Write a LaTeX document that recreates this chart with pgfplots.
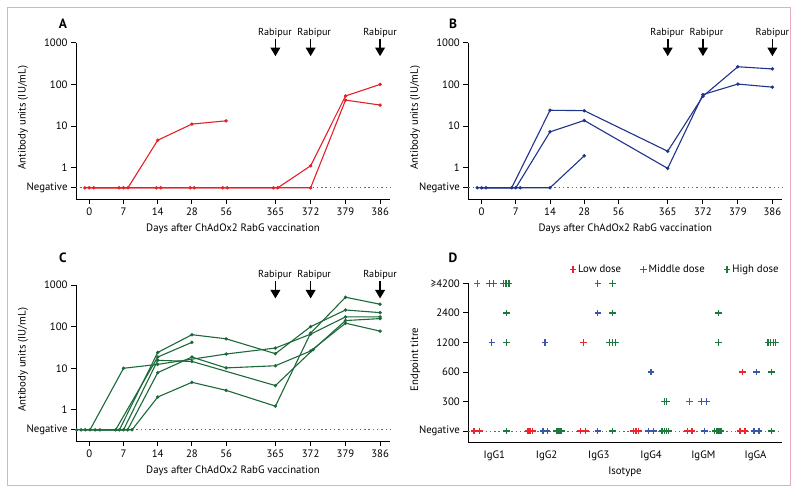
\documentclass[border=0pt]{standalone}
\usepackage{pgfplots}
\pgfplotsset{compat=1.18}
\usepackage{fontspec}
\setmainfont{PT Sans}
\usetikzlibrary{arrows.meta}
\definecolor{cred}{RGB}{228,32,40}
\definecolor{cblue}{RGB}{32,52,140}
\definecolor{cgreen}{RGB}{28,106,58}
\definecolor{dred}{RGB}{238,36,44}
\definecolor{dblue}{RGB}{58,86,168}
\definecolor{dgreen}{RGB}{30,120,62}
\definecolor{negc}{RGB}{95,108,122}
\definecolor{pinkb}{RGB}{232,170,190}
\newcommand{\rab}[2]{%
  \draw[line width=1.7bp, -{Triangle[width=9.5bp,length=8.5bp]}] ([yshift=4bp]axis cs:#1,1000) -- ([yshift=-13.5bp]axis cs:#1,1000);
  \node[anchor=center, font=\fontsize{10.2}{12}\selectfont] at ([yshift=10bp, xshift=#2]axis cs:#1,1000) {Rabipur};
}
\newcommand{\rabs}{\rab{5.44}{-0.5bp}\rab{6.47}{3.5bp}\rab{8.5}{0bp}}
\begin{document}
\begin{tikzpicture}
\useasboundingbox (0bp,0bp) rectangle (800bp,494bp);
\fill[white] (0bp,0bp) rectangle (800bp,494bp);
\draw[pinkb, line width=1.2bp] (7.5bp,8.5bp) rectangle (790.5bp,486.5bp);
% ---------- A ----------
\begin{axis}[
    y coord trafo/.code={\pgfmathparse{log10(#1)}},
    y coord inv trafo/.code={\pgfmathparse{10^(#1)}},
    ymin=0.1786, ymax=1000,
    scale only axis, width=314bp, height=156.3bp,
    at={(76bp,295bp)}, anchor=south west,
    font=\fontsize{10.8}{13}\selectfont,
    axis x line*=bottom, axis y line*=left,
    axis line style={line width=0.9bp},
    tick align=outside, major tick length=5bp,
    tick style={black, line width=0.9bp},
    xmin=-0.389, xmax=8.79,
    xtick={0,1,2,3,4,5.44,6.47,7.49,8.5},
    xticklabels={0,7,14,28,56,365,372,379,386},
    ytick={0.333,1,10,100,1000},
    yticklabels={Negative,1,10,100,1000},
    minor tick num=0,
    xlabel={Days after ChAdOx2 RabG vaccination},
    ylabel={Antibody units (IU/mL)},
    xlabel style={at={(axis description cs:0.5,0)}, anchor=center, yshift=-29.7bp},
    ylabel style={at={(axis description cs:0,0.52)}, anchor=center, yshift=53bp},
    clip=false]
\addplot[negc, line width=0.9bp, dash pattern=on 1.4bp off 2.9bp] coordinates {(-0.389,0.333) (8.79,0.333)};
\addplot[cred, line width=1.1bp, mark=*, mark size=1.1bp, mark options={fill=cred}] coordinates {(0.13,0.333) (1.13,0.333) (2,4.6) (3,11.2) (4,13.4)};
\addplot[cred, line width=1.1bp, mark=*, mark size=1.1bp, mark options={fill=cred}] coordinates {(0,0.333) (1,0.333) (2.09,0.333) (3.07,0.333) (4.03,0.333) (5.51,0.333) (6.47,1.12) (7.49,53) (8.5,100)};
\addplot[cred, line width=1.1bp, mark=*, mark size=1.1bp, mark options={fill=cred}] coordinates {(-0.13,0.333) (0.87,0.333) (1.96,0.333) (2.95,0.333) (3.9,0.333) (5.38,0.333) (6.47,0.333) (7.49,42) (8.5,32)};
\rabs
\end{axis}
\node[font=\fontsize{13.5}{15}\selectfont\bfseries] at (63bp,470bp) {A};
% ---------- B ----------
\begin{axis}[
    y coord trafo/.code={\pgfmathparse{log10(#1)}},
    y coord inv trafo/.code={\pgfmathparse{10^(#1)}},
    ymin=0.1786, ymax=1000,
    scale only axis, width=314bp, height=156.3bp,
    at={(468.3bp,295bp)}, anchor=south west,
    font=\fontsize{10.8}{13}\selectfont,
    axis x line*=bottom, axis y line*=left,
    axis line style={line width=0.9bp},
    tick align=outside, major tick length=5bp,
    tick style={black, line width=0.9bp},
    xmin=-0.389, xmax=8.79,
    xtick={0,1,2,3,4,5.44,6.47,7.49,8.5},
    xticklabels={0,7,14,28,56,365,372,379,386},
    ytick={0.333,1,10,100,1000},
    yticklabels={Negative,1,10,100,1000},
    minor tick num=0,
    xlabel={Days after ChAdOx2 RabG vaccination},
    ylabel={Antibody units (IU/mL)},
    xlabel style={at={(axis description cs:0.5,0)}, anchor=center, yshift=-29.7bp},
    ylabel style={at={(axis description cs:0,0.52)}, anchor=center, yshift=53bp},
    clip=false]
\addplot[negc, line width=0.9bp, dash pattern=on 1.4bp off 2.9bp] coordinates {(-0.389,0.333) (8.79,0.333)};
\addplot[cblue, line width=1.1bp, mark=*, mark size=1.1bp, mark options={fill=cblue}] coordinates {(-0.13,0.333) (0.88,0.333) (2,24) (3,23.5) (5.44,2.5) (6.47,52) (7.49,265) (8.5,235)};
\addplot[cblue, line width=1.1bp, mark=*, mark size=1.1bp, mark options={fill=cblue}] coordinates {(0,0.333) (1,0.333) (2,7.3) (3,13.7) (5.44,0.97) (6.47,57) (7.49,102) (8.5,86)};
\addplot[cblue, line width=1.1bp, mark=*, mark size=1.1bp, mark options={fill=cblue}] coordinates {(0.13,0.333) (1.13,0.333) (2,0.333) (3,1.94)};
\rabs
\end{axis}
\node[font=\fontsize{13.5}{15}\selectfont\bfseries] at (453bp,470bp) {B};
% ---------- C ----------
\begin{axis}[
    y coord trafo/.code={\pgfmathparse{log10(#1)}},
    y coord inv trafo/.code={\pgfmathparse{10^(#1)}},
    ymin=0.1786, ymax=1000,
    scale only axis, width=314bp, height=156bp,
    at={(76bp,53bp)}, anchor=south west,
    font=\fontsize{10.8}{13}\selectfont,
    axis x line*=bottom, axis y line*=left,
    axis line style={line width=0.9bp},
    tick align=outside, major tick length=5bp,
    tick style={black, line width=0.9bp},
    xmin=-0.389, xmax=8.79,
    xtick={0,1,2,3,4,5.44,6.47,7.49,8.5},
    xticklabels={0,7,14,28,56,365,372,379,386},
    ytick={0.333,1,10,100,1000},
    yticklabels={Negative,1,10,100,1000},
    minor tick num=0,
    xlabel={Days after ChAdOx2 RabG vaccination},
    ylabel={Antibody units (IU/mL)},
    xlabel style={at={(axis description cs:0.5,0)}, anchor=center, yshift=-29.7bp},
    ylabel style={at={(axis description cs:0,0.52)}, anchor=center, yshift=53bp},
    clip=false]
\addplot[negc, line width=0.9bp, dash pattern=on 1.4bp off 2.9bp] coordinates {(-0.389,0.333) (8.79,0.333)};
\addplot[cgreen, line width=1.1bp, mark=*, mark size=1.1bp, mark options={fill=cgreen}] coordinates {(-0.37,0.333) (0.77,0.333) (2,18.6) (3,42)};
\addplot[cgreen, line width=1.1bp, mark=*, mark size=1.1bp, mark options={fill=cgreen}] coordinates {(-0.24,0.333) (0.88,0.333) (2,24) (3,64) (4,51) (5.44,22.4) (6.47,100) (7.49,251) (8.5,217)};
\addplot[cgreen, line width=1.1bp, mark=*, mark size=1.1bp, mark options={fill=cgreen}] coordinates {(0.02,0.333) (1,10) (2,12.4) (4,22) (5.44,30.6) (6.47,66) (7.49,171) (8.5,171)};
\addplot[cgreen, line width=1.1bp, mark=*, mark size=1.1bp, mark options={fill=cgreen}] coordinates {(-0.12,0.333) (1,0.333) (2,15.5) (3,14.6) (5.44,3.84) (6.54,28) (7.49,140) (8.5,156)};
\addplot[cgreen, line width=1.1bp, mark=*, mark size=1.1bp, mark options={fill=cgreen}] coordinates {(0.17,0.333) (1.12,0.333) (2,7.85) (3,18.6) (4,10.2) (5.44,11.5) (6.47,26) (7.49,121) (8.5,78)};
\addplot[cgreen, line width=1.1bp, mark=*, mark size=1.1bp, mark options={fill=cgreen}] coordinates {(0.31,0.333) (1.25,0.333) (2,2.04) (3,4.6) (4,2.95) (5.44,1.23) (6.47,70) (7.49,508) (8.5,345)};
\rabs
\end{axis}
\node[font=\fontsize{13.5}{15}\selectfont\bfseries] at (63bp,236bp) {C};
% ---------- D ----------
\begin{axis}[
    scale only axis, width=313.4bp, height=159bp,
    at={(468.3bp,51.7bp)}, anchor=south west,
    font=\fontsize{10.8}{13}\selectfont,
    axis x line*=bottom, axis y line*=left,
    axis line style={line width=0.9bp},
    tick align=outside,
    tick style={black, line width=0.9bp},
    major tick length=5bp, minor tick length=5bp,
    xmin=-0.5, xmax=5.5, ymin=-0.38, ymax=5,
    xtick={0,1,2,3,4,5},
    xticklabels={IgG1,IgG2,IgG3,IgG4,IgGM,IgGA},
    xtick style={draw=none},
    minor xtick={-0.5,0.5,1.5,2.5,3.5,4.5,5.5},
    minor tick style={black, line width=0.9bp},
    ytick={0,1,2,3,4,5},
    yticklabels={Negative,300,600,1200,2400,≥4200},
    xlabel={Isotype}, ylabel={Endpoint titre},
    xlabel style={at={(axis description cs:0.5,0)}, anchor=center, yshift=-29.4bp},
    ylabel style={at={(axis description cs:0,0.52)}, anchor=center, yshift=53bp},
    clip=false,
    legend cell align=left,
    legend style={at={(1,1)}, anchor=south east, yshift=5bp, xshift=2bp, draw=none, fill=none,
      legend columns=3, font=\fontsize{10.8}{13}\selectfont,
      /tikz/every even column/.append style={column sep=17bp}},
  ]
\addplot[negc, line width=0.9bp, dash pattern=on 1.4bp off 2.9bp, forget plot] coordinates {(-0.5,0) (5.5,0)};
\addplot[only marks, mark=+, mark size=3.3bp, line width=1.3bp, dred] coordinates {
 (-0.33,5) (-0.39,0) (-0.29,0)
 (0.64,0) (0.68,0) (0.73,0)
 (1.70,3) (1.65,0) (1.75,0)
 (2.66,0) (2.71,0) (2.76,0)
 (3.73,1) (3.69,0) (3.78,0)
 (4.75,2) (4.70,0) (4.80,0)
};
\addlegendentry{Low dose}
\addplot[only marks, mark=+, mark size=3.3bp, line width=1.3bp, dblue] coordinates {
 (-0.10,5) (-0.02,5) (-0.05,3)
 (0.97,3) (0.93,0) (1.01,0)
 (1.98,5) (1.98,4) (1.98,0)
 (3.00,2) (2.95,0) (3.04,0)
 (3.97,1) (4.06,1) (4.02,0)
 (5.02,2) (4.97,0) (5.065,0)
};
\addlegendentry{Middle dose}
\addplot[only marks, mark=+, mark size=3.3bp, line width=1.3bp, dgreen] coordinates {
 (0.17,5) (0.22,5) (0.28,5) (0.235,4) (0.235,3) (0.235,0)
 (1.19,0) (1.21,0) (1.23,0) (1.25,0) (1.27,0) (1.29,0)
 (2.26,5) (2.26,4) (2.20,3) (2.26,3) (2.32,3) (2.26,0)
 (3.25,1) (3.30,1) (3.21,0) (3.25,0) (3.29,0) (3.33,0)
 (4.285,4) (4.285,3) (4.22,0) (4.26,0) (4.30,0) (4.34,0)
 (5.24,3) (5.29,3) (5.34,3) (5.385,3) (5.31,2) (5.31,0)
};
\addlegendentry{High dose}
\end{axis}
\node[font=\fontsize{13.5}{15}\selectfont\bfseries] at (453bp,236bp) {D};
\end{tikzpicture}
\end{document}
